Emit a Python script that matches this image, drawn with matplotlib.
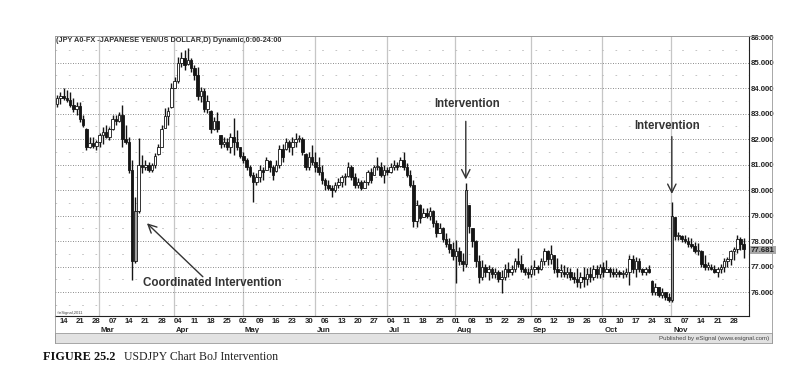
import matplotlib
matplotlib.use('Agg')
import matplotlib.pyplot as plt
from matplotlib import font_manager
from matplotlib.patches import Rectangle
import numpy as np

# daily USDJPY bars, 10 Feb 2011 .. 1 Dec 2011
highs = [83.73, 83.86, 83.99, 83.93, 83.86, 83.60, 83.47, 83.47, 82.95, 82.42,
         82.10, 82.10, 81.96, 82.23, 82.49, 82.55, 82.49, 82.95, 82.95, 83.08,
         83.34, 82.55, 82.10, 81.18, 79.74, 82.03, 81.38, 81.18, 81.11, 81.05,
         81.44, 81.83, 82.55, 83.21, 83.27, 84.19, 84.45, 85.24, 85.43, 85.50,
         85.56, 85.17, 84.91, 84.84, 84.06, 83.99, 83.73, 83.14, 82.88, 83.08,
         82.16, 82.10, 82.03, 82.23, 82.82, 82.36, 81.70, 81.51, 81.25, 80.98,
         80.72, 80.66, 80.98, 80.92, 81.31, 81.18, 80.98, 81.18, 81.77, 81.83,
         82.03, 81.96, 82.10, 82.23, 82.16, 82.10, 81.44, 81.51, 81.77, 81.51,
         81.31, 80.98, 80.47, 80.39, 80.20, 80.33, 80.46, 80.59, 80.66, 81.12,
         80.99, 80.66, 80.46, 80.40, 80.40, 80.79, 80.85, 80.99, 81.31, 81.12,
         80.99, 80.92, 81.05, 81.18, 81.12, 81.31, 81.51, 81.05, 80.79, 80.40,
         79.61, 79.47, 79.28, 79.28, 79.35, 79.22, 78.83, 78.70, 78.56, 78.30,
         78.11, 77.98, 78.04, 77.78, 77.52, 80.27, 79.42, 78.50, 78.04, 77.45,
         77.25, 77.12, 77.06, 76.99, 76.93, 76.86, 76.86, 77.12, 77.19, 77.06,
         77.32, 77.72, 77.45, 76.99, 76.93, 77.06, 77.25, 77.06, 77.32, 77.72,
         77.65, 77.85, 77.45, 77.32, 77.12, 77.06, 76.99, 76.93, 76.80, 76.93,
         76.80, 76.99, 76.93, 76.99, 77.06, 77.06, 77.12, 77.19, 77.25, 76.99,
         76.93, 76.93, 76.86, 76.86, 76.93, 77.45, 77.45, 77.38, 77.32, 76.93,
         76.99, 77.06, 76.47, 76.34, 76.21, 76.15, 76.01, 75.95, 79.55, 78.96,
         78.37, 78.24, 78.24, 78.17, 78.11, 77.98, 77.91, 77.65, 77.45, 77.19,
         77.12, 77.06, 76.99, 77.12, 77.32, 77.38, 77.65, 77.78, 78.24, 78.17,
         78.11]
lows = [83.27, 83.40, 83.53, 83.47, 83.27, 83.08, 82.95, 82.68, 82.49, 81.57,
        81.64, 81.64, 81.57, 81.70, 81.83, 82.03, 81.96, 82.36, 82.55, 82.68,
        81.70, 81.83, 80.66, 76.47, 77.15, 79.09, 80.66, 80.79, 80.72, 80.72,
        80.85, 81.38, 81.70, 82.42, 82.55, 83.21, 83.99, 84.19, 84.84, 84.71,
        84.91, 84.65, 84.32, 83.53, 83.47, 83.08, 83.01, 82.23, 82.36, 82.29,
        81.64, 81.70, 81.57, 81.44, 81.38, 81.57, 81.25, 81.05, 80.79, 80.53,
        79.54, 80.20, 80.33, 80.39, 80.79, 80.72, 80.39, 80.72, 80.85, 81.11,
        81.57, 81.51, 81.38, 81.70, 81.90, 81.38, 80.79, 80.79, 80.98, 80.72,
        80.59, 80.26, 80.00, 80.00, 79.74, 79.94, 80.07, 80.14, 80.20, 80.53,
        80.40, 80.07, 80.07, 80.01, 80.07, 80.20, 80.27, 80.59, 80.79, 80.53,
        80.27, 80.59, 80.66, 80.79, 80.79, 80.92, 80.79, 80.53, 80.14, 78.56,
        78.56, 78.70, 78.95, 78.89, 78.83, 78.56, 78.17, 78.30, 77.98, 77.78,
        77.52, 77.26, 76.34, 77.07, 76.81, 77.00, 78.30, 77.78, 77.00, 76.34,
        76.47, 76.60, 76.47, 76.54, 76.54, 76.41, 75.95, 76.47, 76.60, 76.67,
        76.80, 77.00, 76.80, 76.67, 76.54, 76.60, 76.67, 76.73, 76.86, 77.06,
        77.06, 77.12, 76.73, 76.60, 76.60, 76.60, 76.54, 76.47, 76.34, 76.21,
        76.15, 76.21, 76.28, 76.41, 76.47, 76.54, 76.54, 76.60, 76.80, 76.60,
        76.60, 76.60, 76.60, 76.54, 76.60, 76.28, 76.73, 76.60, 76.80, 76.67,
        76.67, 76.73, 75.88, 75.88, 75.82, 75.75, 75.69, 75.62, 75.62, 78.04,
        78.04, 77.98, 77.91, 77.78, 77.72, 77.52, 77.45, 76.99, 76.86, 76.86,
        76.86, 76.73, 76.60, 76.73, 76.80, 76.99, 77.06, 77.25, 77.52, 77.65,
        77.32]
opens = [83.4, 83.6, 83.7, 83.6, 83.55, 83.35, 83.2, 83.3, 82.8, 82.4,
         81.7, 81.85, 81.75, 81.9, 82.15, 82.3, 82.1, 82.4, 82.8, 82.7,
         82.95, 82.0, 81.9, 80.8, 77.2, 79.2, 81.0, 80.9, 81.0, 80.8,
         81.0, 81.4, 81.7, 82.45, 82.9, 83.25, 84.0, 84.3, 85.0, 85.2,
         84.95, 85.1, 84.8, 84.5, 83.7, 83.9, 83.2, 83.1, 82.4, 82.7,
         82.15, 81.8, 81.9, 81.7, 82.1, 81.9, 81.7, 81.35, 81.2, 80.9,
         80.6, 80.3, 80.5, 80.8, 80.8, 81.15, 80.9, 80.75, 81.0, 81.6,
         81.6, 81.9, 81.7, 81.9, 82.0, 82.0, 81.4, 80.9, 81.3, 81.1,
         80.9, 80.7, 80.4, 80.2, 80.1, 80.0, 80.2, 80.3, 80.5, 80.55,
         80.9, 80.5, 80.2, 80.3, 80.1, 80.3, 80.7, 80.6, 80.9, 80.9,
         80.6, 80.8, 80.7, 80.9, 81.0, 80.95, 81.2, 80.9, 80.6, 80.2,
         78.8, 79.4, 78.95, 79.1, 79.0, 79.2, 78.7, 78.3, 78.5, 78.1,
         77.9, 77.7, 77.4, 77.6, 77.2, 77.1, 79.4, 78.5, 78.0, 77.2,
         76.6, 77.0, 76.8, 76.9, 76.7, 76.8, 76.5, 76.6, 76.9, 76.8,
         76.9, 77.2, 77.1, 76.9, 76.8, 76.7, 76.9, 77.0, 76.9, 77.2,
         77.6, 77.3, 77.45, 76.9, 76.8, 76.8, 76.7, 76.8, 76.6, 76.5,
         76.4, 76.6, 76.5, 76.7, 76.6, 76.9, 76.7, 77.0, 76.8, 76.9,
         76.8, 76.7, 76.8, 76.7, 76.7, 76.8, 77.3, 76.9, 77.2, 76.9,
         76.8, 76.9, 76.45, 76.0, 76.2, 75.9, 76.0, 75.8, 75.7, 78.95,
         78.2, 78.2, 78.1, 78.0, 77.9, 77.8, 77.6, 77.6, 77.1, 77.0,
         77.0, 76.9, 76.8, 76.9, 77.0, 77.2, 77.3, 77.6, 77.7, 78.1,
         77.9]
closes = [83.6, 83.7, 83.6, 83.55, 83.35, 83.2, 83.3, 82.8, 82.55, 81.7,
          81.85, 81.75, 81.9, 82.15, 82.3, 82.1, 82.4, 82.8, 82.7, 82.95,
          82.0, 81.9, 80.8, 77.2, 79.2, 81.0, 80.9, 81.0, 80.8, 81.0,
          81.35, 81.7, 82.4, 82.9, 83.1, 84.0, 84.3, 85.0, 85.2, 84.9,
          85.1, 84.8, 84.5, 83.7, 83.9, 83.2, 83.5, 82.4, 82.7, 82.4,
          81.8, 81.9, 81.7, 82.1, 81.9, 81.7, 81.35, 81.2, 80.9, 80.6,
          80.3, 80.5, 80.8, 80.7, 81.2, 80.9, 80.6, 81.0, 81.6, 81.3,
          81.9, 81.7, 81.9, 82.0, 82.0, 81.5, 80.9, 81.3, 81.1, 80.9,
          80.7, 80.4, 80.2, 80.1, 80.0, 80.2, 80.3, 80.5, 80.5, 80.9,
          80.5, 80.2, 80.3, 80.1, 80.3, 80.7, 80.4, 80.9, 80.9, 80.6,
          80.8, 80.7, 80.9, 81.0, 80.9, 81.2, 80.9, 80.6, 80.2, 78.8,
          79.4, 78.9, 79.1, 79.0, 79.2, 78.7, 78.3, 78.5, 78.1, 77.9,
          77.7, 77.4, 77.6, 77.2, 77.1, 80.0, 78.6, 78.0, 77.2, 76.6,
          77.0, 76.8, 76.9, 76.7, 76.8, 76.5, 76.6, 76.9, 76.8, 76.9,
          77.2, 77.1, 76.9, 76.8, 76.7, 76.9, 77.0, 76.9, 77.2, 77.6,
          77.3, 77.5, 76.9, 76.8, 76.8, 76.7, 76.8, 76.6, 76.5, 76.4,
          76.6, 76.5, 76.7, 76.6, 76.9, 76.7, 77.0, 76.8, 76.9, 76.8,
          76.7, 76.8, 76.7, 76.7, 76.8, 77.3, 76.9, 77.2, 76.9, 76.8,
          76.9, 76.8, 76.0, 76.2, 75.9, 76.0, 75.8, 75.7, 79.0, 78.2,
          78.2, 78.1, 78.0, 77.9, 77.8, 77.6, 77.6, 77.1, 77.0, 77.0,
          76.9, 76.8, 76.9, 77.0, 77.2, 77.3, 77.6, 77.7, 78.1, 77.9,
          77.681]

# Monday labels (first one is Mon 14 Feb = bar 2)
day_labels = ['14', '21', '28', '07', '14', '21', '28', '04', '11', '18', '25',
              '02', '09', '16', '23', '30', '06', '13', '20', '27', '04', '11',
              '18', '25', '01', '08', '15', '22', '29', '05', '12', '19', '26',
              '03', '10', '17', '24', '31', '07', '14', '21', '28']
month_names = ['Mar', 'Apr', 'May', 'Jun', 'Jul', 'Aug', 'Sep', 'Oct', 'Nov']
month_first_bar = [13, 36, 57, 79, 101, 122, 145, 167, 188]
price_levels = [76, 77, 78, 79, 80, 81, 82, 83, 84, 85, 86]
last_price = 77.681


def has_font(name):
    try:
        font_manager.findfont(name, fallback_to_default=False)
        return True
    except ValueError:
        return False


if has_font('Liberation Sans Narrow'):
    narrow, nscale = 'Liberation Sans Narrow', 1.0
else:
    narrow, nscale = 'Liberation Sans', 0.85
sans = 'Liberation Sans'
serif = 'Liberation Serif'

W, H = 790, 383
fig = plt.figure(figsize=(W / 100, H / 100), dpi=100)
fig.patch.set_facecolor('white')

# plot area in pixels: x 55..749, y 36..316
ax = fig.add_axes([55 / W, 1 - 316 / H, (749 - 55) / W, (316 - 36) / H])
ax.set_xlim(-0.61, 211.6)
ax.set_ylim(75.06, 86.05)

# grid
for lv in price_levels[:-1]:
    ax.axhline(lv, color='#666666', lw=0.6, ls=(0, (1, 2)), zorder=1)
    ax.axhline(lv - 0.5, color='#bbbbbb', lw=0.6, ls=(0, (2, 14)), zorder=1)
ax.axhline(85.5, color='#bbbbbb', lw=0.6, ls=(0, (2, 14)), zorder=1)
for m in month_first_bar:
    ax.axvline(m - 0.2, color='#c6c6c6', lw=0.9, zorder=0)

# candles
x = np.arange(len(closes))
o = np.array(opens)
c = np.array(closes)
body_lo = np.minimum(o, c)
body_h = np.maximum(np.abs(c - o), 0.05)
face = []
for oo, cc in zip(o, c):
    if cc >= oo:
        face.append('#a0a0a0' if cc - oo > 1.9 else 'white')
    else:
        face.append('#151515')
ax.vlines(x, lows, highs, color='#151515', lw=1.0, zorder=3)
ax.bar(x, body_h, bottom=body_lo, width=0.78, color=face,
       edgecolor='#151515', linewidth=0.6, zorder=4)

# axes styling
for s in ['left', 'top']:
    ax.spines[s].set_color('#999999')
    ax.spines[s].set_linewidth(0.6)
for s in ['right', 'bottom']:
    ax.spines[s].set_color('#222222')
    ax.spines[s].set_linewidth(0.8)

ax.yaxis.tick_right()
ax.set_yticks(price_levels)
ax.set_yticklabels(['%.3f' % v for v in price_levels])
ax.tick_params(axis='y', length=0, pad=1.5, labelsize=6.6 * nscale, labelcolor='#222222')
ax.set_xticks([2 + 5 * i for i in range(len(day_labels))])
ax.set_xticklabels(day_labels)
ax.tick_params(axis='x', length=0, pad=1.5, labelsize=6.6 * nscale, labelcolor='#222222')
for lab in ax.get_xticklabels() + ax.get_yticklabels():
    lab.set_family(narrow)
    lab.set_fontweight('bold')

for name, m in zip(month_names, month_first_bar):
    ax.text(m + 0.4, -0.05, name, transform=ax.get_xaxis_transform(),
            ha='left', va='center', fontsize=6.6 * nscale, family=narrow,
            fontweight='bold', color='#222222')

# annotations
arrow = dict(arrowstyle='->', color='#333333', lw=1.0, mutation_scale=15,
             shrinkA=0, shrinkB=0)
ax.annotate('', xy=(27.5, 78.7), xytext=(44.6, 76.6), arrowprops=arrow, zorder=6)
ax.text(26.3, 76.35, 'Coordinated Intervention', ha='left', va='center',
        fontsize=8.4, family=sans, fontweight='bold', color='#333333', zorder=6)
ax.annotate('', xy=(125, 80.42), xytext=(125, 82.7), arrowprops=arrow, zorder=6)
ax.text(125.5, 83.38, 'Intervention', ha='center', va='center',
        fontsize=8.3, family=sans, fontweight='bold', color='#333333', zorder=6)
ax.annotate('', xy=(188, 79.85), xytext=(188, 82.1), arrowprops=arrow, zorder=6)
ax.text(186.5, 82.52, 'Intervention', ha='center', va='center',
        fontsize=8.3, family=sans, fontweight='bold', color='#333333', zorder=6)

# overlay in pixel coordinates for the frame and loose texts
ov = fig.add_axes([0, 0, 1, 1], zorder=5)
ov.set_xlim(0, W)
ov.set_ylim(H, 0)
ov.axis('off')
ov.plot([55, 772], [36, 36], color='#999999', lw=0.6)
ov.plot([772, 772], [36, 343], color='#999999', lw=0.6)
ov.plot([55, 55], [316, 343], color='#999999', lw=0.6)
ov.add_patch(Rectangle((55, 333), 717, 10, facecolor='#e2e2e2',
                       edgecolor='#9a9a9a', lw=0.6))

ov.text(56, 41, '(JPY A0-FX -JAPANESE YEN/US DOLLAR,D) Dynamic,0:00-24:00',
        ha='left', va='center', fontsize=6.3 * nscale, family=narrow,
        fontweight='bold', color='#333333')
ov.text(57, 313, '\u00a9eSignal,2011', ha='left', va='center', fontsize=3,
        family=sans, color='#444444')
ov.text(769, 338.5, 'Published by eSignal (www.esignal.com)', ha='right',
        va='center', fontsize=4.4, family=sans, color='#444444')
ov.text(751, 250, '%.3f' % last_price, ha='left', va='center',
        fontsize=6.6 * nscale, family=narrow, fontweight='bold', color='#222222',
        bbox=dict(boxstyle='square,pad=0.1', facecolor='#a8a8a8', edgecolor='none'))

ov.text(43, 357, 'FIGURE 25.2', ha='left', va='center', fontsize=8.8,
        family=serif, fontweight='bold', color='#111111')
ov.text(124, 357, 'USDJPY Chart BoJ Intervention', ha='left', va='center',
        fontsize=8.5, family=serif, color='#222222')

fig.savefig('out.png', dpi=100)
